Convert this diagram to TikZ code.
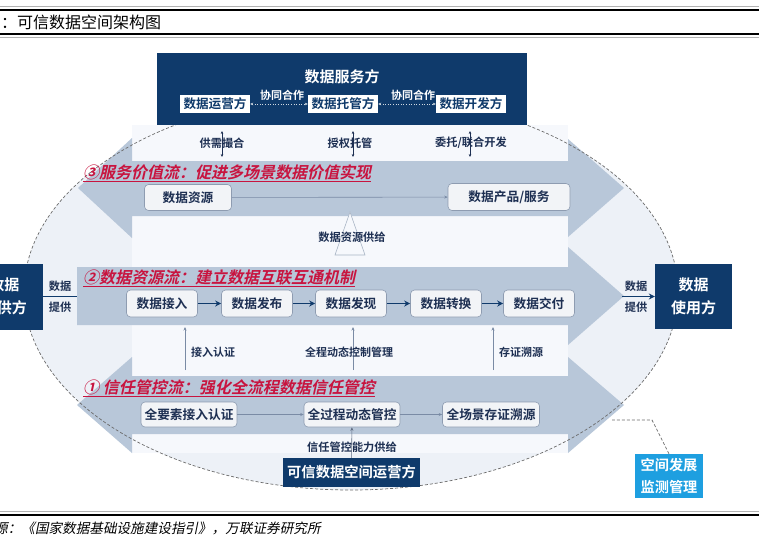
\documentclass[tikz,border=0pt]{standalone}
\usepackage{fontspec}
\setmainfont{Noto Sans CJK SC}
\newfontfamily\cjkB{Noto Sans CJK SC Bold}
\newfontfamily\cjkBI{Noto Sans CJK SC Bold}[FakeSlant=0.22]
\newfontfamily\cjkI{Noto Sans CJK SC}[FakeSlant=0.2]
\usetikzlibrary{arrows.meta}
\definecolor{navy}{HTML}{0F3A6B}
\definecolor{band}{HTML}{B8C7D9}
\definecolor{ellfill}{HTML}{EDF1F7}
\definecolor{lightrect}{HTML}{F6F8FC}
\definecolor{nodefill}{HTML}{F2F4F7}
\definecolor{nodeborder}{HTML}{8E9CB1}
\definecolor{txt}{HTML}{1D2F52}
\definecolor{crimson}{HTML}{C8143F}
\definecolor{skyb}{HTML}{1E9FE0}
\definecolor{thinc}{HTML}{7A8BA5}
\definecolor{tricol}{HTML}{A9B5C5}
\begin{document}
\begin{tikzpicture}[x=1pt,y=-1pt,
  flowbox/.style={draw=nodeborder, fill=nodefill, rounded corners=4pt, line width=0.6pt, text=txt, font=\cjkB\fontsize{12.7}{14}\selectfont, inner sep=0pt},
  whitebox/.style={fill=white, text=navy, font=\cjkB\fontsize{12.6}{14}\selectfont, minimum width=70pt, minimum height=18pt, inner sep=0pt},
  navybox/.style={fill=navy, text=white, inner sep=0pt, align=center},
  lbl/.style={text=txt, font=\cjkB\fontsize{11.2}{13}\selectfont, inner sep=0pt},
  coopl/.style={text=white, font=\cjkB\fontsize{11}{13}\selectfont, inner sep=0pt},
  bandtitle/.style={text=crimson, font=\cjkBI\fontsize{16}{18}\selectfont, inner sep=0pt, anchor=west},
  thickarr/.style={draw=navy, line width=1.6pt, -{Stealth[length=6pt,width=6pt]}},
  thinarr/.style={draw=thinc, line width=0.6pt, -{Stealth[length=3.5pt,width=3pt]}},
  dblarr/.style={draw=txt, line width=0.6pt, {Stealth[length=3pt,width=2.6pt]}-{Stealth[length=3pt,width=2.6pt]}},
  coop/.style={draw=white!80!navy, line width=0.6pt, dotted, {Stealth[length=3pt,width=2.6pt]}-{Stealth[length=3pt,width=2.6pt]}},
  band/.style={fill=band}
]
\useasboundingbox (0,0) rectangle (759,543);
\fill[white] (0,0) rectangle (759,543);
% header / footer rules
\draw[gray!60, line width=0.8pt] (0,6) -- (759,6);
\draw[black, line width=2.4pt] (0,10) -- (759,10);
\draw[black, line width=2.4pt] (0,34) -- (759,34);
\draw[gray!60, line width=0.8pt] (0,37.5) -- (759,37.5);
\draw[gray!60, line width=0.8pt] (0,511.5) -- (759,511.5);
\draw[black, line width=2.4pt] (0,515) -- (759,515);
\node[anchor=west, inner sep=0pt, font=\fontsize{16}{18}\selectfont] (ttl) at (1,22) {：可信数据空间架构图};
\node[anchor=west, inner sep=0pt, font=\cjkI\fontsize{13.6}{16}\selectfont] (src) at (-6,528) {源：《国家数据基础设施建设指引》，万联证券研究所};
% ellipse and background
\fill[ellfill] (351,292) ellipse [x radius=327pt, y radius=198pt];
\fill[lightrect] (132,125) rectangle (568,453);
% bands
\fill[band] (78,188) -- (132,138) -- (132,161) -- (568,161) -- (568,139) -- (624,188) -- (568,237) -- (568,216) -- (132,216) -- (132,238) -- cycle;
\fill[band] (77,267) -- (568,267) -- (568,247) -- (624,296) -- (568,345) -- (568,325) -- (77,325) -- cycle;
\fill[band] (77,405) -- (132,357) -- (132,376) -- (568,376) -- (568,357) -- (624,405) -- (568,453) -- (568,434) -- (132,434) -- (132,453) -- cycle;
\draw[gray!85!black, line width=0.7pt, dash pattern=on 3pt off 2pt] (351,292) ellipse [x radius=327pt, y radius=198pt];
% top service box
\node[navybox, minimum width=370pt, minimum height=72pt] (srv) at (342,89) {};
\node[coopl, font=\cjkB\fontsize{15}{17}\selectfont] (srvt) at (342,77) {数据服务方};
\node[whitebox] (yy) at (215,104) {数据运营方};
\node[whitebox] (tg) at (343,104) {数据托管方};
\node[whitebox] (kf) at (471,104) {数据开发方};
\draw[coop] (yy) -- (tg);
\draw[coop] (tg) -- (kf);
\node[coopl] (c1) at (282,95) {协同合作};
\node[coopl] (c2) at (413,95) {协同合作};
% links below top box
\coordinate (a1t) at (222,131); \coordinate (a1b) at (222,157);
\coordinate (a2t) at (353,131); \coordinate (a2b) at (353,157);
\coordinate (a3t) at (470,131); \coordinate (a3b) at (470,157);
\draw[dblarr] (a1t) -- (a1b);
\draw[dblarr] (a2t) -- (a2b);
\draw[dblarr] (a3t) -- (a3b);
\node[lbl] (l1) at (222,143) {供需撮合};
\node[lbl] (l2) at (350,143) {授权托管};
\node[lbl] (l3) at (471,143) {委托/联合开发};
% band 3
\node[bandtitle] (t3) at (83,173) {\underline{③服务价值流：促进多场景数据价值实现}};
\node[flowbox, minimum width=87pt, minimum height=26pt] (ds) at (188,197.5) {数据资源};
\node[flowbox, minimum width=122pt, minimum height=27pt] (cp) at (509,197) {数据产品/服务};
\draw[thinarr] (ds) -- (cp);
\draw[draw=tricol, fill=lightrect, line width=0.6pt] (350,212) -- (365,255) -- (335,255) -- cycle;
\node[lbl] (gj) at (352,237) {数据资源供给};
% band 2
\node[bandtitle] (t2) at (83,278) {\underline{②数据资源流：建立数据互联互通机制}};
\node[flowbox, minimum width=71pt, minimum height=27pt] (n1) at (162,303.5) {数据接入};
\node[flowbox, minimum width=71pt, minimum height=27pt] (n2) at (257,303.5) {数据发布};
\node[flowbox, minimum width=71pt, minimum height=27pt] (n3) at (351,303.5) {数据发现};
\node[flowbox, minimum width=71pt, minimum height=27pt] (n4) at (446,303.5) {数据转换};
\node[flowbox, minimum width=71pt, minimum height=27pt] (n5) at (539,303.5) {数据交付};
\draw[thickarr] (n1) -- (n2);
\draw[thickarr] (n2) -- (n3);
\draw[thickarr] (n3) -- (n4);
\draw[thickarr] (n4) -- (n5);
\coordinate (v1b) at (185,370); \coordinate (v1t) at (185,327);
\coordinate (v2b) at (353,370); \coordinate (v2t) at (353,327);
\coordinate (v3b) at (493,370); \coordinate (v3t) at (493,327);
\draw[thinarr] (v1b) -- (v1t);
\draw[thinarr] (v2b) -- (v2t);
\draw[thinarr] (v3b) -- (v3t);
\node[lbl, font=\cjkB\fontsize{11}{13}\selectfont] (m1) at (213,352) {接入认证};
\node[lbl, font=\cjkB\fontsize{11}{13}\selectfont] (m2) at (349,352) {全程动态控制管理};
\node[lbl, font=\cjkB\fontsize{11}{13}\selectfont] (m3) at (521,352) {存证溯源};
% band 1
\node[bandtitle] (t1) at (83,388) {\underline{① 信任管控流：强化全流程数据信任管控}};
\node[flowbox, minimum width=96pt, minimum height=25pt] (q1) at (189,414.5) {全要素接入认证};
\node[flowbox, minimum width=96pt, minimum height=25pt] (q2) at (352,414.5) {全过程动态管控};
\node[flowbox, minimum width=97pt, minimum height=25pt] (q3) at (491,414.5) {全场景存证溯源};
\draw[thinarr] (q1) -- (q2);
\draw[thinarr] (q2) -- (q3);
\node[navybox, minimum width=137pt, minimum height=29pt, font=\cjkB\fontsize{14.3}{16}\selectfont] (op) at (351.5,472.5) {可信数据空间运营方};
\draw[thinarr, draw=thinc!80!black] (op) -- (q2);
\node[lbl] (gg) at (352,447) {信任管控能力供给};
% side parties
\node[navybox, minimum width=77pt, minimum height=66pt, font=\cjkB\fontsize{15}{23}\selectfont] (prov) at (4.5,296.5) {数据\\提供方};
\node[navybox, minimum width=77pt, minimum height=65pt, font=\cjkB\fontsize{15}{23}\selectfont] (user) at (693.5,296.5) {数据\\使用方};
\coordinate (bandL) at (77,296.5);
\coordinate (bandR) at (622,296.5);
\draw[navy, line width=1.3pt] (prov.east) -- (bandL);
\draw[thickarr, line width=1.3pt] (bandR) -- (user.west);
\node[lbl] (pl1) at (60,286) {数据};
\node[lbl] (pl2) at (60,307) {提供};
\node[lbl] (pr1) at (636,286) {数据};
\node[lbl] (pr2) at (636,307) {提供};
% monitoring
\node[fill=skyb, text=white, inner sep=0pt, align=center, minimum width=68pt, minimum height=44pt, font=\cjkB\fontsize{14.2}{22}\selectfont] (mon) at (669,476) {空间发展\\监测管理};
\coordinate (mk) at (652,420);
\coordinate (me) at (612,420);
\draw[gray!85!black, line width=0.7pt, dash pattern=on 3pt off 2pt] (mon.north) -- (mk) -- (me);
\end{tikzpicture}
\end{document}
